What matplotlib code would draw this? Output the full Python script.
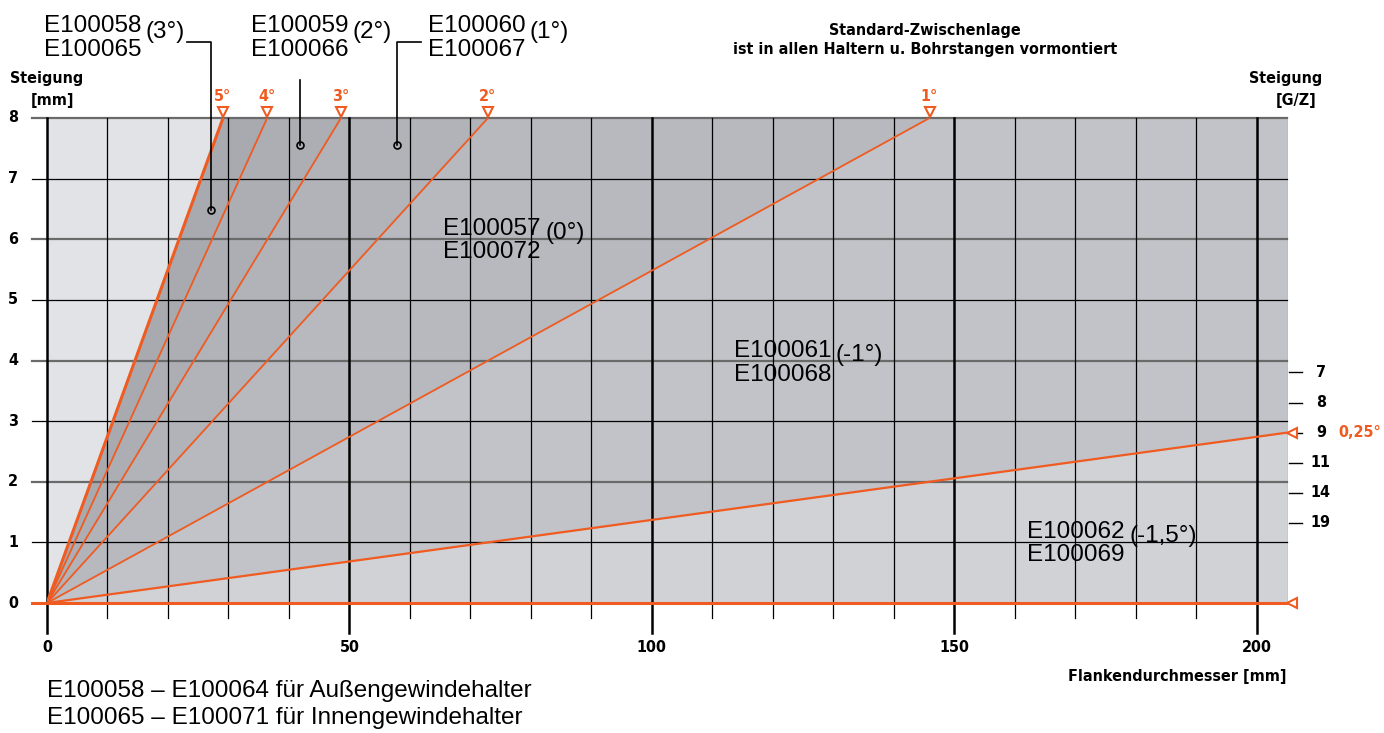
import numpy as np
import matplotlib.pyplot as plt

# helix angle lines: where each one leaves the chart (top edge at pitch 8)
angle_labels = ['5°', '4°', '3°', '2°', '1°']
angle_x_end = [29.1, 36.4, 48.6, 72.9, 145.9]
flat_label = '0,25°'
flat_y_end = 2.81                       # 0.25° line at right edge
x_max = 205
y_max = 8

# right hand scale: threads per inch
gz_labels = ['7', '8', '9', '11', '14', '19']
gz_pitch = [3.81, 3.30, 2.81, 2.31, 1.82, 1.32]

x_ticks = [0, 50, 100, 150, 200]
y_ticks = [0, 1, 2, 3, 4, 5, 6, 7, 8]

# region colours, left (steep) to right (flat)
region_colors = ['#e2e3e7', '#a8aab0', '#acaeb4', '#b1b3b9', '#b7b9bf', '#c1c3c8', '#d1d2d6']

# inserts: (codes, angle text, x, y)
inserts_inside = [
    ('E100057\nE100072', '(0°)', 65.5, 5.98),
    ('E100061\nE100068', '(-1°)', 113.5, 3.96),
    ('E100062\nE100069', '(-1,5°)', 162.0, 0.98),
]
callout_pts = [(27.1, 6.49), (41.8, 7.56), (57.8, 7.56)]

ORANGE = '#ef5b20'
LBL = dict(family='DejaVu Sans', fontstretch='condensed', fontweight='bold', fontsize=11.5)
TXT = dict(family=['Liberation Sans', 'DejaVu Sans'], fontsize=17.5)

fig = plt.figure(figsize=(13.84, 7.33), dpi=100)
ax = fig.add_axes([47 / 1384, 1 - 603 / 733, (1287 - 47) / 1384, (603 - 118) / 733])
ax.set_xlim(0, x_max)
ax.set_ylim(0, y_max)
ax.axis('off')

# background shading
ax.fill_between([0, x_max], 0, y_max, color=region_colors[0], lw=0, zorder=0)
for i, xe in enumerate(angle_x_end):
    xs = np.array([0, xe, x_max])
    ax.fill_between(xs, 0, np.minimum(xs * y_max / xe, y_max), color=region_colors[i + 1], lw=0, zorder=0)
ax.fill_between([0, x_max], 0, [0, flat_y_end], color=region_colors[-1], lw=0, zorder=0)

# grid
for yv in range(1, y_max + 1):
    if yv % 2 == 0:
        ax.plot([-2.5, x_max], [yv, yv], color='#6a6a6a', lw=1.6, zorder=1, clip_on=False)
    else:
        ax.plot([-2.5, x_max], [yv, yv], color='black', lw=0.9, zorder=1, clip_on=False)
for xv in range(0, 201, 10):
    if xv % 50 == 0:
        ax.plot([xv, xv], [-0.5, y_max], color='black', lw=1.8, zorder=1, clip_on=False)
    else:
        ax.plot([xv, xv], [-0.25, y_max], color='black', lw=0.9, zorder=1, clip_on=False)

# angle lines
for i, (lab, xe) in enumerate(zip(angle_labels, angle_x_end)):
    ax.plot([0, xe], [0, y_max], color=ORANGE, lw=2.2 if i == 0 else 1.3, zorder=3)
    ax.plot(xe, y_max + 0.1, marker='v', ms=7, mfc='white', mec=ORANGE, mew=1.5, zorder=4, clip_on=False)
    ax.text(xe, y_max + 0.35, lab, color=ORANGE, ha='center', va='center', **LBL)
ax.plot([0, x_max], [0, flat_y_end], color=ORANGE, lw=1.6, zorder=3)
ax.plot([-2.5, x_max], [0, 0], color=ORANGE, lw=2.2, zorder=3, clip_on=False)
for yv in [flat_y_end, 0]:
    ax.plot(x_max + 0.9, yv, marker='<', ms=7, mfc='white', mec=ORANGE, mew=1.5, zorder=4, clip_on=False)
ax.text(213.5, flat_y_end, flat_label, color=ORANGE, ha='left', va='center', **LBL)

# tick labels
for xv in x_ticks:
    ax.text(xv, -0.74, str(xv), ha='center', va='center', **LBL)
for yv in y_ticks:
    ax.text(-5.6, yv, str(yv), ha='center', va='center', **LBL)
for lab, yv in zip(gz_labels, gz_pitch):
    ax.plot([205.4, 207.5], [yv, yv], color='black', lw=1, clip_on=False)
    ax.text(210.6, yv, lab, ha='center', va='center', **LBL)

# axis titles
fig.text(47 / 1384, 1 - 78 / 733, 'Steigung', ha='center', va='center', **LBL)
fig.text(52 / 1384, 1 - 101 / 733, '[mm]', ha='center', va='center', **LBL)
fig.text(1286 / 1384, 1 - 78 / 733, 'Steigung', ha='center', va='center', **LBL)
fig.text(1296 / 1384, 1 - 101 / 733, '[G/Z]', ha='center', va='center', **LBL)
fig.text(1287 / 1384, 1 - 676 / 733, 'Flankendurchmesser [mm]', ha='right', va='center', **LBL)
fig.text(925 / 1384, 1 - 40 / 733, 'Standard-Zwischenlage\nist in allen Haltern u. Bohrstangen vormontiert',
         ha='center', va='center', linespacing=1.3, **LBL)

# inserts inside chart
for codes, ang, xv, yv in inserts_inside:
    ax.text(xv, yv, codes, ha='left', va='center', linespacing=1.1, zorder=5, **TXT)
    ax.text(xv + 16.9, yv + 0.13, ang, ha='left', va='center', zorder=5, **TXT)

# inserts above chart with callouts
def px(xp, yp):
    return (xp - 47) / 6.055, (603 - yp) / 60.6

tops = [('E100058\nE100065', '(3°)', 44), ('E100059\nE100066', '(2°)', 251), ('E100060\nE100067', '(1°)', 428)]
for codes, ang, xp in tops:
    x0, y0 = px(xp, 38)
    ax.text(x0, y0, codes, ha='left', va='center', linespacing=1.1, clip_on=False, **TXT)
    x1, y1 = px(xp + 102, 32)
    ax.text(x1, y1, ang, ha='left', va='center', clip_on=False, **TXT)

leaders = [
    [px(187, 42), px(211, 42)],
    [px(300, 80)],
    [px(421, 42), px(397, 42)],
]
for pts, (cx, cy) in zip(leaders, callout_pts):
    xs = [p[0] for p in pts] + [cx]
    ys = [p[1] for p in pts] + [cy]
    if len(pts) == 2:
        xs[-1] = pts[-1][0]
    else:
        xs[0] = cx
    ax.plot(xs, ys, color='black', lw=1.2, zorder=5, clip_on=False)
    ax.plot(xs[-1], cy, marker='o', ms=5, mfc='none', mec='black', mew=1.2, zorder=6)

fig.text(47 / 1384, 1 - 691 / 733, 'E100058 – E100064 für Außengewindehalter', ha='left', va='center', **TXT)
fig.text(47 / 1384, 1 - 718 / 733, 'E100065 – E100071 für Innengewindehalter', ha='left', va='center', **TXT)

plt.savefig('out.png', dpi=100)
